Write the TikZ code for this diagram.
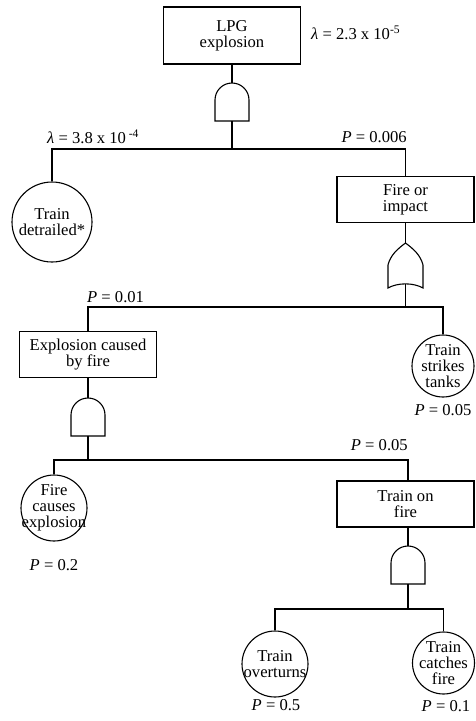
\documentclass[tikz,border=0pt]{standalone}
\usepackage{fontspec}
\setmainfont{Liberation Serif}
\begin{document}
\begin{tikzpicture}[x=1pt,y=-1pt,
  every node/.style={font=\fontsize{16.6}{16}\selectfont},
  wire/.style={line width=1.1pt},
  gate/.style={draw, line width=1.1pt},
  evbox/.style={draw, line width=1.1pt, minimum width=137pt, minimum height=46pt, inner sep=0pt, align=center},
  basic/.style={draw, circle, line width=1.1pt, inner sep=0pt},
  txt/.style={align=center, inner sep=0pt},
  prob/.style={inner sep=0pt},
  andgate/.pic={
    \draw[gate] (-17,21) -- (-17,0) arc[start angle=180,end angle=0,radius=17pt] -- (17,21) -- cycle;
    \coordinate (-in) at (0,-17);
    \coordinate (-out) at (0,21);
  },
  orgate/.pic={
    \draw[gate] (-17.5,25) -- (-17.5,2) .. controls (-15,-8) and (-8,-14) .. (0,-20)
      .. controls (8,-14) and (15,-8) .. (17.5,2) -- (17.5,25)
      .. controls (8,19.5) and (-8,19.5) .. (-17.5,25) -- cycle;
    \coordinate (-in) at (0,-20);
    \coordinate (-out) at (0,21);
  }]
\useasboundingbox (0,0) rectangle (475,721);

% events (boxes)
\node[evbox, minimum height=57pt] (top) at (232,35.5) {LPG\\explosion};
\node[evbox] (fi) at (405.5,199.5) {Fire or\\impact};
\node[evbox] (ecf) at (88,354.5) {Explosion caused\\by fire};
\node[evbox] (tof) at (405.5,504) {Train on\\fire};

% basic events (circles)
\node[basic, minimum size=80pt] (det) at (52,222) {};
\node[txt] (dett) at (det.center) {Train\\detrailed*};
\node[basic, minimum size=62pt] (st) at (443,366) {};
\node[txt] (stt) at (st.center) {Train\\strikes\\tanks};
\node[basic, minimum size=66pt] (fce) at (54,508) {};
\node[txt] (fcet) at (fce.center) {Fire\\causes\\explosion};
\node[basic, minimum size=66pt] (ov) at (275,664) {};
\node[txt] (ovt) at (ov.center) {Train\\overturns};
\node[basic, minimum size=62pt] (cf) at (443.5,663) {};
\node[txt] (cft) at (cf.center) {Train\\catches\\fire};

% gates
\pic (g1) at (232,100) {andgate};
\pic (g2) at (405.5,263) {orgate};
\pic (g3) at (88,415) {andgate};
\pic (g4) at (408,563) {andgate};

% junctions
\coordinate (j1) at (232,149);
\coordinate (j2) at (405.5,307);
\coordinate (j3) at (88,460);
\coordinate (j4) at (408,609);

% connectors
\draw[wire] (top.south) -- (g1-in);
\draw[wire] (g1-out) -- (j1);
\draw[wire] (det.north) |- (j1) -| (fi.north);
\draw[wire] (fi.south) -- (g2-in);
\draw[wire] (g2-out) -- (j2);
\draw[wire] (ecf.north) |- (j2) -| (st.north);
\draw[wire] (ecf.south) -- (g3-in);
\draw[wire] (g3-out) -- (j3);
\draw[wire] (fce.north) |- (j3) -| (tof.north -| g4-in);
\draw[wire] (tof.south -| g4-in) -- (g4-in);
\draw[wire] (g4-out) -- (j4);
\draw[wire] (ov.north) |- (j4) -| (cf.north);

% labels
\node[prob, anchor=west] (l1) at (311,33) {{\itshape λ} = 2.3 x 10\textsuperscript{-5}};
\node[prob, anchor=west] (l2) at (47,137) {{\itshape λ} = 3.8 x 10\,\textsuperscript{-4}};
\node[prob, anchor=east] (l3) at (407,137) {{\itshape P} = 0.006};
\node[prob, anchor=west] (l4) at (87,297) {{\itshape P} = 0.01};
\node[prob] (l5) at (443,410) {{\itshape P} = 0.05};
\node[prob, anchor=east] (l6) at (408,445) {{\itshape P} = 0.05};
\node[prob] (l7) at (54,565) {{\itshape P} = 0.2};
\node[prob] (l8) at (276,705) {{\itshape P} = 0.5};
\node[prob] (l9) at (446,706) {{\itshape P} = 0.1};
\end{tikzpicture}
\end{document}
